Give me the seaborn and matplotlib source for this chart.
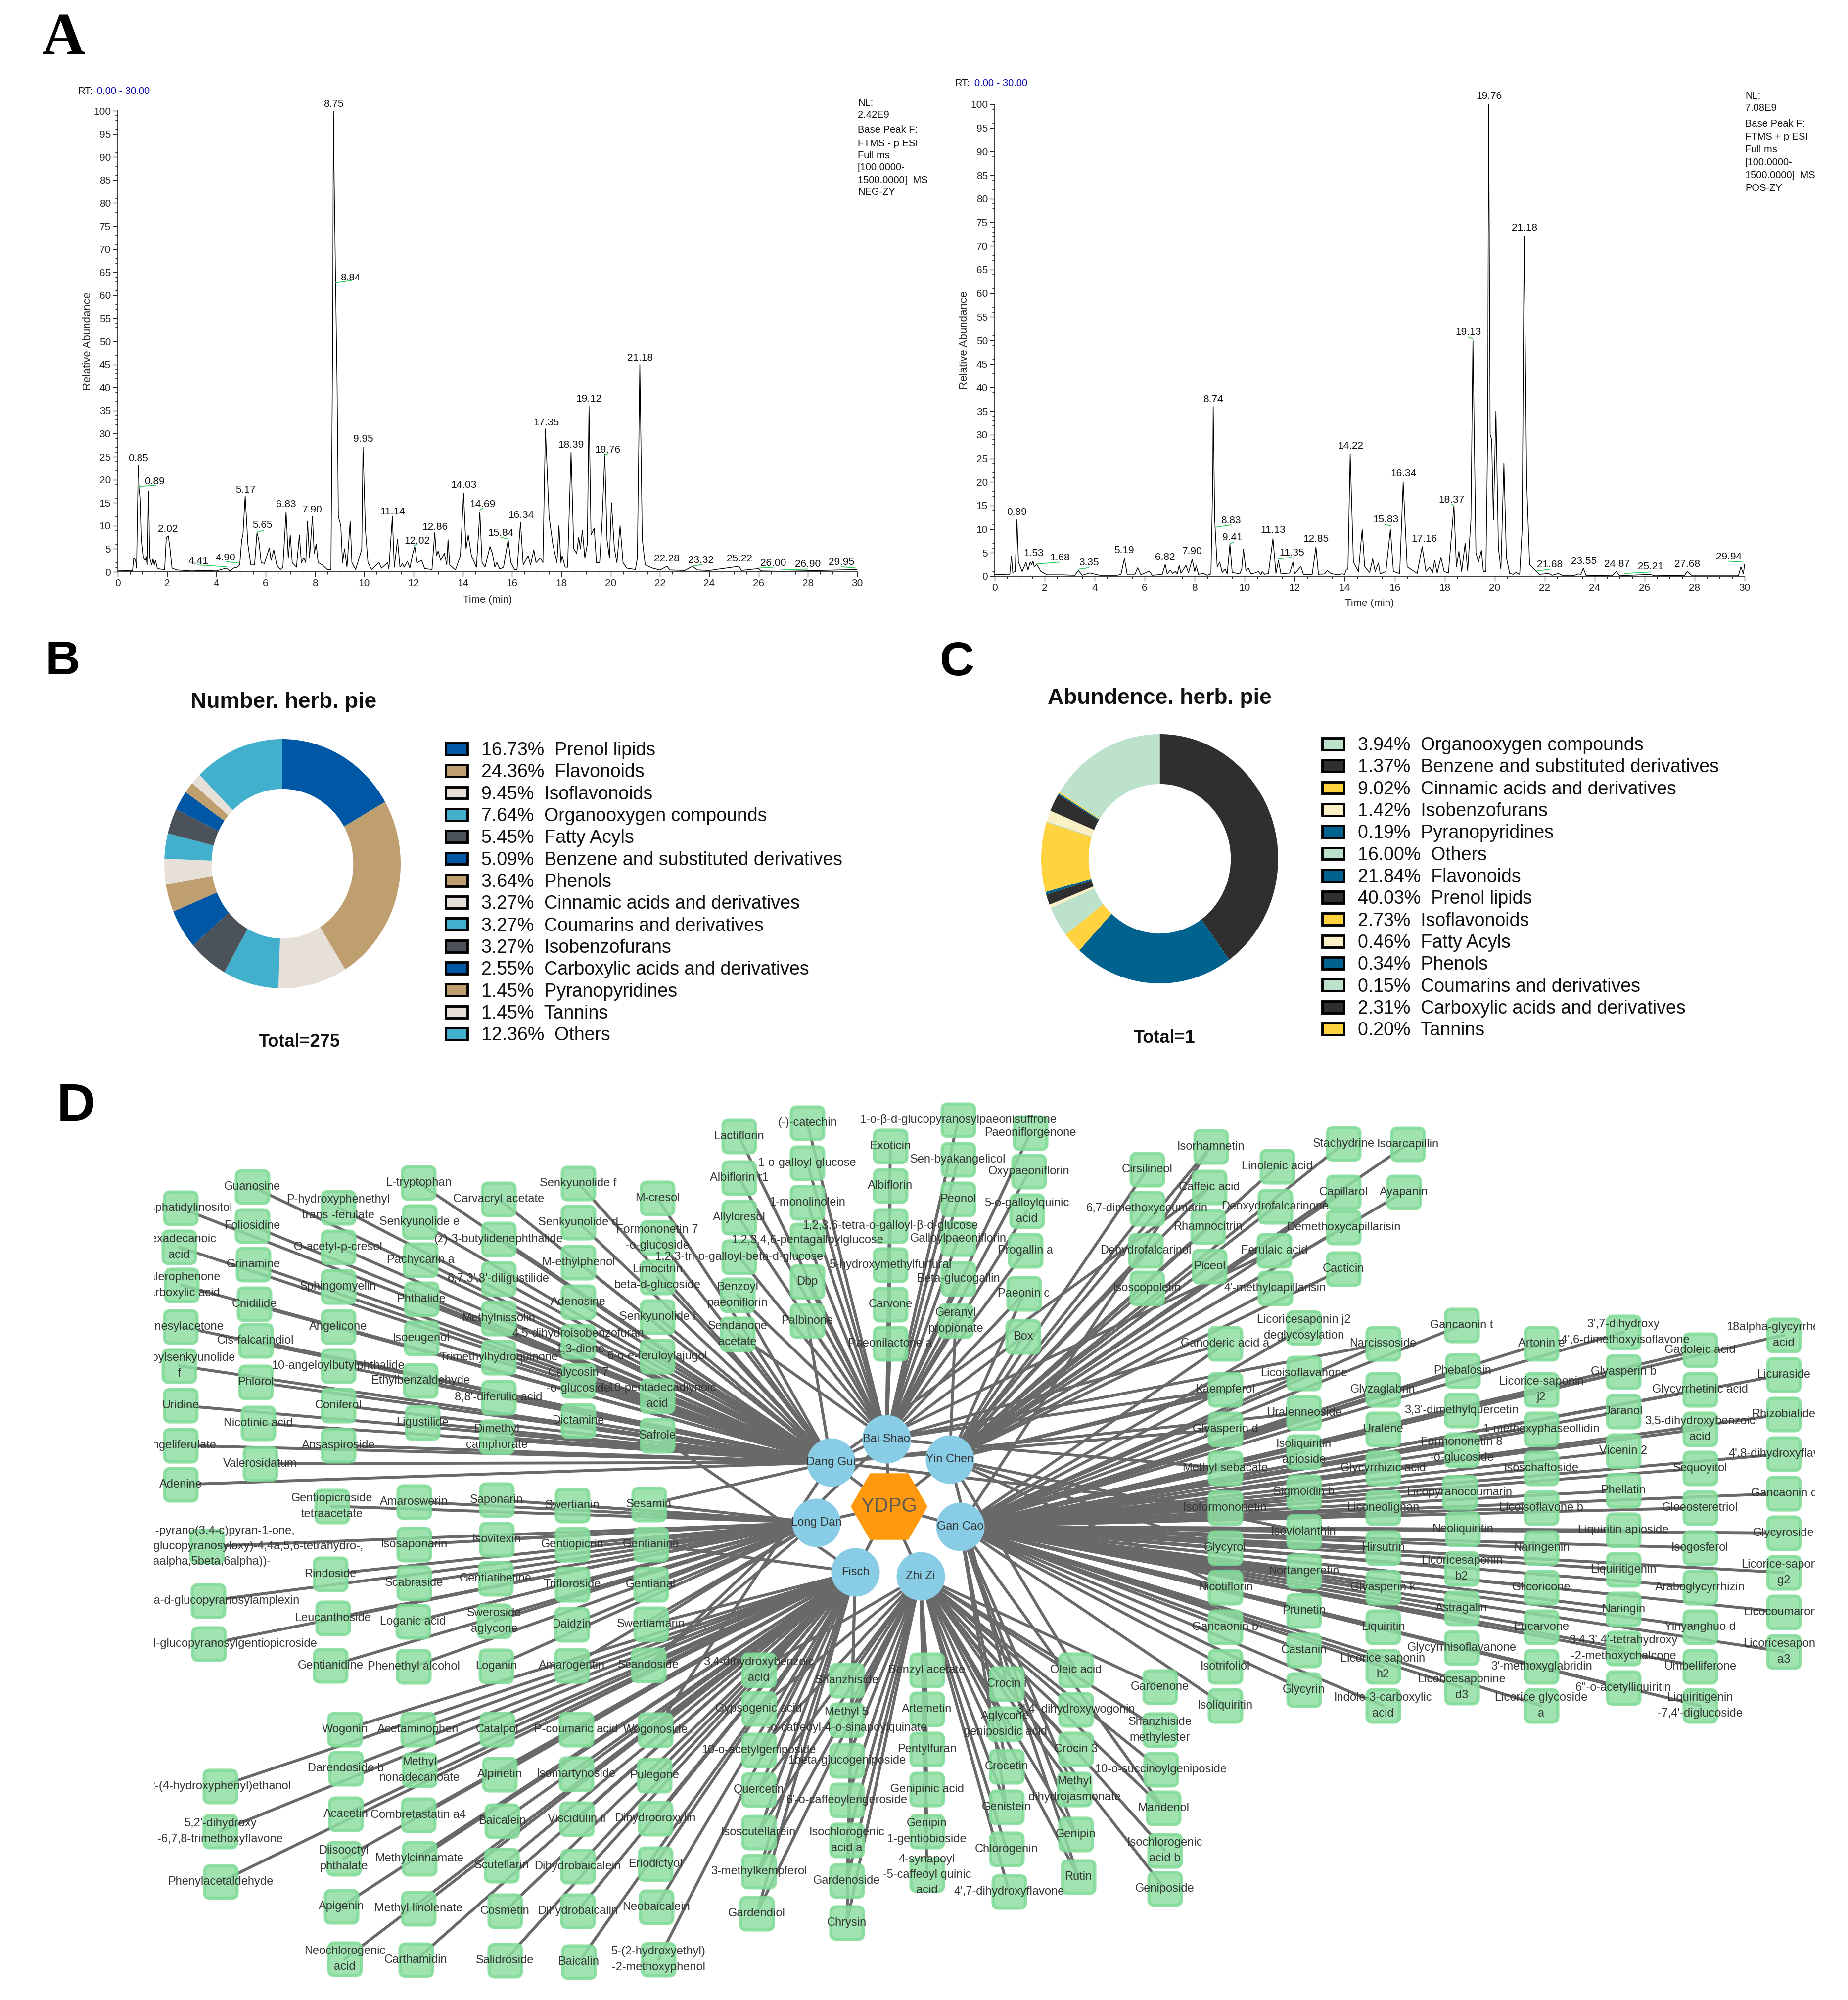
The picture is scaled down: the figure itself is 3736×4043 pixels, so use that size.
import numpy as np
import pandas as pd
import matplotlib
matplotlib.use("Agg")
import matplotlib.pyplot as plt
from matplotlib.patches import FancyBboxPatch, Patch
from matplotlib.markers import MarkerStyle
from matplotlib.ticker import MultipleLocator
import seaborn as sns

W, H = 3736, 4043

# ---- panel A: chromatograms, retention time (min) and relative abundance
neg_rt = [0,.6,.65,.72,.76,.83,.88,.92,.97,1.05,1.12,1.17,1.2,1.25,1.3,1.38,1.43,1.48,1.53,1.6,1.7,1.9,1.97,2.05,2.12,2.2,2.4,3,3.5,4,4.4,4.55,4.7,4.85,4.95,5.03,5.08,5.17,5.28,5.4,5.55,5.65,5.72,5.82,5.95,6.02,6.15,6.22,6.33,6.45,6.6,6.7,6.83,6.92,7.0,7.08,7.25,7.37,7.45,7.55,7.63,7.7,7.78,7.9,7.97,8.05,8.13,8.3,8.5,8.65,8.72,8.75,8.78,8.84,8.9,8.95,9.05,9.12,9.2,9.3,9.43,9.5,9.65,9.85,9.9,9.95,10.05,10.15,10.3,10.6,10.7,10.95,11.0,11.14,11.22,11.35,11.45,11.55,11.62,11.75,11.85,11.97,12.05,12.15,12.33,12.45,12.75,12.86,12.93,13,13.1,13.25,13.35,13.4,13.47,13.7,13.9,14.03,14.13,14.22,14.35,14.55,14.69,14.78,14.9,15.1,15.2,15.3,15.38,15.5,15.65,15.84,15.95,16.1,16.2,16.34,16.45,16.65,16.75,16.88,16.97,17.15,17.25,17.35,17.5,17.65,17.82,17.9,17.98,18.03,18.15,18.25,18.39,18.5,18.62,18.7,18.77,18.85,18.95,19.05,19.12,19.2,19.33,19.42,19.55,19.65,19.76,19.85,19.95,20.03,20.15,20.25,20.38,20.5,20.65,21,21.08,21.18,21.28,21.4,21.7,22,22.28,22.4,23,23.32,23.5,24,25.2,25.3,26,26.1,27,30]
neg_abund = [.2,.3,3.0,2.5,.8,23,18,16,7,3,2.5,3.3,1.5,17.5,3,1.5,2.8,1.5,2.5,.8,.6,.5,7.5,7.8,5,.8,.4,.2,.3,.2,.8,.2,.8,1,1.5,7,8,16.5,6,1.5,1.5,8.5,7,2,1.8,3,5.2,2.5,4.8,1.5,.5,1,13,3,8,2,1,8,2,3,2,11,3,12,4,6,2,1.5,.5,.5,50,100,85,62,40,12,10,2,5,1,11,2,.5,4,5,27,9,2,.5,2,.8,2,.6,12,1,7,1,1.8,1,2.3,.8,4,5.5,2,2.5,.7,.5,8.5,3.5,4.5,2.5,4,1.5,7,1.5,.4,3.5,17,5,8,3.5,1,13,2,1,5.5,4,1,2,.6,1,7,2,.5,.5,10.7,1.5,3.5,1.5,4.8,2,3,2,31,12,6,2,10,2,3.5,1,1,26,5,4,7.5,5,9,3,6,36,8,9.5,2,2,11,25.5,7,3,15,5,2,10,2,.8,.5,3,45,7,1.5,.8,.4,1.2,.4,.3,1.2,.4,.3,1.2,.3,.7,.2,.1,.5]
neg_labels = ["0.85","0.89","2.02","4.41","4.90","5.17","5.65","6.83","7.90","8.75","8.84","9.95","11.14","12.02","12.86","14.03","14.69","15.84","16.34","17.35","18.39","19.12","19.76","21.18","22.28","23.32","25.22","26.00","26.90","29.95"]
neg_label_x = [.83,1.5,2.03,3.27,4.38,5.18,5.87,6.82,7.9,8.76,9.45,9.95,11.15,12.14,12.88,14.03,14.8,15.55,16.36,17.38,18.39,19.12,19.88,21.2,22.28,23.65,25.23,26.6,28.0,29.35]
neg_label_y = [24.6,19.6,9.3,2.3,3.1,17.8,10.1,14.6,13.5,101.5,63.8,28.8,13,6.7,9.7,18.8,14.6,8.4,12.3,32.3,27.5,37.5,26.4,46.4,2.8,2.5,2.8,1.9,1.7,2.1]
neg_leaders = [(.87,18.5,1.55,18.8),(3.25,1.5,4.4,1.1),(4.4,2.2,4.9,1.9),(5.65,8.6,5.9,9),(8.84,62.7,9.5,63.2),(12.02,5.7,12.15,6),(14.69,13.4,14.8,13.8),(15.84,7.1,15.55,7.5),(19.76,25.3,19.9,25.7),(23.32,1.2,23.7,1.6),(26,.8,26.6,1),(26.9,.4,28,.6),(29.95,.8,29.35,1.1)]
neg_info = ["NL:","2.42E9","Base Peak F:","FTMS - p ESI","Full ms","[100.0000-","1500.0000]  MS","NEG-ZY"]

pos_rt = [0,.6,.67,.72,.82,.89,.95,1.1,1.25,1.33,1.42,1.48,1.53,1.58,1.68,1.85,2.1,2.7,3.2,3.35,3.5,3.8,4.2,4.9,5.05,5.19,5.3,5.6,5.72,5.85,6.18,6.3,6.7,6.82,6.9,7.02,7.12,7.22,7.3,7.38,7.45,7.65,7.75,7.9,8,8.06,8.15,8.35,8.5,8.65,8.72,8.74,8.8,8.9,9,9.1,9.22,9.3,9.41,9.5,9.8,9.88,9.95,10.05,10.15,10.25,10.4,10.55,10.65,10.7,10.8,10.95,11.13,11.25,11.35,11.45,11.8,11.93,12,12.25,12.35,12.7,12.85,12.95,13.2,13.3,13.45,13.7,13.9,14,14.07,14.13,14.22,14.35,14.55,14.7,14.8,15,15.12,15.22,15.35,15.42,15.65,15.83,15.95,16.2,16.34,16.5,16.9,17.1,17.25,17.4,17.52,17.6,17.7,17.85,17.98,18.15,18.37,18.47,18.57,18.68,18.82,18.92,19.05,19.13,19.25,19.35,19.47,19.55,19.65,19.72,19.76,19.82,19.88,19.95,20.05,20.15,20.25,20.37,20.47,20.6,20.75,20.85,21,21.1,21.18,21.28,21.4,21.68,21.8,22.15,22.3,22.55,22.7,23.2,23.35,23.45,23.55,23.65,24.7,24.87,25,26.22,26.4,27.6,27.7,27.9,29.75,29.85,29.95,30]
pos_abund = [.4,.3,4.3,.8,1,12,3,1,3,1.3,3,2.5,3.2,2,2.5,1,.3,.3,.2,1.2,.2,.7,.2,.2,.4,3.8,.3,.3,1.8,.3,1.1,.2,.4,2.5,.5,1.3,.6,1,.5,2.3,.6,2.3,.7,3.6,1,2.2,.4,.6,.2,.5,20,36,12,2,3,.8,1.5,.5,6.8,.8,.5,1.5,5.8,1.2,1.7,.5,.7,1,.3,1,.4,.6,8,.6,3.3,.5,.7,3,.5,2.1,.4,.4,6.2,.4,.5,1.2,.6,.3,.5,.4,1.5,1.5,26,3,1,10,2,.8,3.7,1,2.8,.5,1,10,1,.6,20,2,.6,6.3,1,1.9,.8,3.4,.7,4,1,.7,15,2,5.3,1,7,1.2,12,50,5,3,5.5,1,1,30,100,30,29,12,35,6,1.5,24,4,.6,.4,.8,.4,10,72,20,2.5,1,.4,.6,.2,.6,.2,.2,.5,.4,1.7,.2,.1,1,.1,.4,.1,.2,1,.1,.1,2,.5,2.5]
pos_labels = ["0.89","1.53","1.68","3.35","5.19","6.82","7.90","8.74","8.83","9.41","11.13","11.35","12.85","14.22","15.83","16.34","17.16","18.37","19.13","19.76","21.18","21.68","23.55","24.87","25.21","27.68","29.94"]
pos_label_x = [.89,1.55,2.61,3.77,5.18,6.82,7.91,8.73,9.45,9.5,11.14,11.89,12.86,14.23,15.64,16.36,17.18,18.27,18.95,19.77,21.2,22.2,23.57,24.89,26.25,27.7,29.36]
pos_label_y = [13.6,4.9,3.9,2.9,5.5,4,5.3,37.5,11.8,8.2,9.8,5,7.9,27.6,12,21.8,7.9,16.2,51.7,101.7,73.8,2.5,3.2,2.6,2,2.6,4.1]
pos_leaders = [(1.68,2.6,2.6,3),(3.35,1.5,3.75,1.8),(8.83,10.4,9.45,10.9),(9.41,6.9,9.55,7.2),(11.35,3.7,11.85,4),(15.83,10.7,15.6,11),(18.37,15,18.25,15.4),(19.13,50.3,18.95,50.7),(21.68,1.1,22.2,1.5),(25.21,.6,26.25,.9),(29.94,3,29.35,3.2)]
pos_info = ["NL:","7.08E9","Base Peak F:","FTMS + p ESI","Full ms","[100.0000-","1500.0000]  MS","POS-ZY"]

# ---- panels B and C
number_classes = ["Prenol lipids","Flavonoids","Isoflavonoids","Organooxygen compounds","Fatty Acyls","Benzene and substituted derivatives","Phenols","Cinnamic acids and derivatives","Coumarins and derivatives","Isobenzofurans","Carboxylic acids and derivatives","Pyranopyridines","Tannins","Others"]
number_pct = [16.73,24.36,9.45,7.64,5.45,5.09,3.64,3.27,3.27,3.27,2.55,1.45,1.45,12.36]
number_cols = ["#0057A6","#BF9E6F","#E6E0D8","#42B0CC","#4C525A"]

abund_classes = ["Organooxygen compounds","Benzene and substituted derivatives","Cinnamic acids and derivatives","Isobenzofurans","Pyranopyridines","Others","Flavonoids","Prenol lipids","Isoflavonoids","Fatty Acyls","Phenols","Coumarins and derivatives","Carboxylic acids and derivatives","Tannins"]
abund_pct = [3.94,1.37,9.02,1.42,.19,16.00,21.84,40.03,2.73,.46,.34,.15,2.31,.20]
mint, ink, gold, cream, teal = "#BCE2CC", "#2F2F2F", "#FFD23F", "#FBF0C5", "#00628F"
abund_cols = [mint, ink, gold, cream, teal, mint, teal, ink, gold, cream, teal, mint, ink, gold]
# going round the ring clockwise from the top
abund_ring = ["Prenol lipids","Flavonoids","Isoflavonoids","Organooxygen compounds","Fatty Acyls","Benzene and substituted derivatives","Phenols","Cinnamic acids and derivatives","Coumarins and derivatives","Isobenzofurans","Carboxylic acids and derivatives","Pyranopyridines","Tannins","Others"]

# ---- panel D: network, each node is (label, x, y) in layout units
hubs = [("Bai Shao",1792,2909),("Dang Gui",1680,2956),("Yin Chen",1920,2950),("Long Dan",1650,3078),("Gan Cao",1941,3086),("Fisch",1729,3178),("Zhi Zi",1861,3186)]

dang_gui_nodes = [("Phosphatidylinositol",365,2442),("Hexadecanoic\nacid",362,2521),("Valerophenone\ncarboxylic acid",367,2598),("Farnesylacetone",365,2682),("Angeloylsenkyunolide\nf",362,2761),("Uridine",365,2841),("Angeliferulate",365,2922),("Adenine",365,3001),
    ("Guanosine",510,2399),("Foliosidine",510,2478),("Grinamine",512,2556),("Cnidilide",514,2636),("Cis-falcarindiol",517,2710),("Phlorol",517,2794),("Nicotinic acid",522,2877),("Valerosidatum",526,2959),
    ("P-hydroxyphenethyl\ntrans -ferulate",684,2441),("O-acetyl-p-cresol",684,2521),("Sphingomyelin",684,2601),("Angelicone",684,2682),("10-angeloylbutylphthalide",684,2761),("Coniferol",684,2841),("Ansaspiroside",684,2922),
    ("L-tryptophan",846,2391),("Senkyunolide e",848,2470),("Pachycarin a",850,2547),("Phthalide",852,2626),("Isoeugenol",852,2705),("Ethylbenzaldehyde",850,2791),("Ligustilide",854,2876),
    ("Carvacryl acetate",1008,2424),("(z)-3-butylidenephthalide",1008,2505),("6,7,3',8'-diligustilide",1008,2585),("Methylnissolin",1008,2665),("Trimethylhydroquinone",1008,2744),("8,8'-diferulic acid",1008,2825),("Dimethyl\ncamphorate",1004,2905),
    ("Senkyunolide f",1169,2392),("Senkyunolide d",1169,2471),("M-ethylphenol",1169,2552),("Adenosine",1169,2632),("4,5-dihydroisobenzofuran\n-1,3-dione",1169,2712),("Calycosin 7\n-o-glucoside",1169,2791),("Dictamine",1169,2872),
    ("M-cresol",1329,2422),("Formononetin 7\n-o-glucoside",1329,2502),("Limocitrin\nbeta-d-glucoside",1329,2582),("Senkyunolide i",1329,2662),("6-o-e-feruloylajugol",1329,2742),("7,10-pentadecadiynoic\nacid",1329,2822),("Safrole",1329,2902)]

bai_shao_nodes = [("Lactiflorin",1494,2297),("Albiflorin r1",1494,2381),("Allylcresol",1494,2461),("1,2,3-tri-o-galloyl-beta-d-glucose",1494,2541),("Benzoyl\npaeoniflorin",1491,2618),("Sendanone\nacetate",1491,2697),
    ("(-)-catechin",1632,2270),("1-o-galloyl-glucose",1632,2351),("1-monolinolein",1632,2431),("1,2,3,4,6-pentagalloylglucose",1632,2507),("Dbp",1632,2591),("Palbinone",1632,2670),
    ("Exoticin",1800,2317),("Albiflorin",1800,2397),("1,2,3,6-tetra-o-galloyl-β-d-glucose",1800,2478),("5-hydroxymethylfurfural",1800,2557),("Carvone",1800,2637),("Paeonilactone a",1800,2716),
    ("1-o-β-d-glucopyranosylpaeonisuffrone",1937,2264),("Sen-byakangelicol",1937,2344),("Peonol",1937,2424),("Galloylpaeoniflorin",1937,2504),("Beta-glucogallin",1937,2585),("Geranyl\npropionate",1932,2670),
    ("Paeoniflorgenone",2083,2290),("Oxypaeoniflorin",2080,2368),("5-o-galloylquinic\nacid",2076,2448),("Progallin a",2073,2528),("Paeonin c",2070,2615),("Box",2068,2702)]

yin_chen_nodes = [("Cirsilineol",2319,2364),("6,7-dimethoxycoumarin",2319,2443),("Dehydrofalcarinol",2316,2528),("Isoscopoletin",2319,2604),
    ("Isorhamnetin",2448,2318),("Caffeic acid",2445,2400),("Rhamnocitrin",2442,2480),("Piceol",2445,2560),
    ("Linolenic acid",2582,2358),("Deoxydrofalcarinone",2578,2439),("Ferulaic acid",2576,2528),("4'-methylcapillarisin",2578,2604),
    ("Stachydrine",2716,2312),("Capillarol",2716,2410),("Demethoxycapillarisin",2716,2481),("Cacticin",2716,2565),
    ("Isoarcapillin",2846,2313),("Ayapanin",2838,2410)]

gan_cao_nodes = [("Ganoderic acid a",2477,2716),("Kaempferol",2477,2809),("Glyasperin d",2477,2889),("Methyl sebacate",2477,2968),("Isoformononetin",2477,3048),("Glycyrol",2477,3129),("Nicotiflorin",2477,3209),("Gancaonin b",2477,3289),("Isotrifoliol",2477,3369),("Isoliquiritin",2477,3448),
    ("Licoricesaponin j2\ndeglycosylation",2636,2684),("Licoisoflavanone",2636,2776),("Uralenneoside",2636,2856),("Isoliquiritin\napioside",2636,2935),("Sigmoidin b",2636,3016),("Isoviolanthin",2636,3096),("Nortangeretin",2636,3176),("Prunetin",2636,3256),("Castanin",2636,3336),("Glycyrin",2636,3416),
    ("Narcissoside",2796,2716),("Glyzaglabrin",2796,2809),("Uralene",2796,2889),("Glycyrrhizic acid",2796,2968),("Liconeolignan",2796,3048),("Hirsutrin",2796,3129),("Glyasperin k",2796,3209),("Liquiritin",2796,3289),("Licorice saponin\nh2",2796,3369),("Indole-3-carboxylic\nacid",2796,3448),
    ("Gancaonin t",2955,2679),("Phebalosin",2957,2771),("3,3'-dimethylquercetin",2955,2851),("Formononetin 8\n-o-glucoside",2955,2931),("Licopyranocoumarin",2951,3017),("Neoliquiritin",2957,3091),("Licoricesaponin\nb2",2955,3171),("Astragalin",2955,3251),("Glycyrrhisoflavanone",2955,3331),("Licoricesaponine\nd3",2955,3411),
    ("Artonin e",3116,2716),("Licorice-saponin\nj2",3116,2809),("1-methoxyphaseollidin",3116,2889),("Isoschaftoside",3116,2968),("Licoisoflavone b",3116,3048),("Naringenin",3116,3129),("Glicoricone",3116,3209),("Eucarvone",3116,3289),("3'-methoxyglabridin",3116,3369),("Licorice glycoside\na",3116,3448),
    ("3',7-dihydroxy\n-4',6-dimethoxyisoflavone",3282,2693),("Glyasperin b",3282,2773),("Jaranol",3282,2853),("Vicenin 2",3282,2933),("Phellatin",3282,3013),("Liquiritin apioside",3282,3093),("Liquiritigenin",3282,3173),("Naringin",3282,3253),("3,4,3',4'-tetrahydroxy\n-2-methoxychalcone",3282,3332),("6''-o-acetylliquiritin",3282,3412),
    ("Gadoleic acid",3437,2729),("Glycyrrhetinic acid",3437,2809),("3,5-dihydroxybenzoic\nacid",3437,2889),("Sequoyitol",3437,2968),("Gloeosteretriol",3437,3048),("Isogosferol",3437,3129),("Araboglycyrrhizin",3437,3209),("Yinyanghuo d",3437,3289),("Umbelliferone",3437,3369),("Liquiritigenin\n-7,4'-diglucoside",3437,3448),
    ("18alpha-glycyrrhetinic\nacid",3606,2699),("Licuraside",3606,2779),("Rhizobialide",3606,2859),("4',8-dihydroxyflavone",3606,2939),("Gancaonin c",3606,3019),("Glycyroside",3606,3099),("Licorice-saponin\ng2",3606,3179),("Licocoumarone",3606,3259),("Licoricesaponin\na3",3606,3339)]

long_dan_nodes = [("Gentiopicroside\ntetraacetate",671,3045),("Amaroswerin",837,3036),("Saponarin",1004,3032),("Swertianin",1157,3043),("Sesamin",1312,3041),
    ("(1H,3H-pyrano(3,4-c)pyran-1-one,\n5-ethenyl-6-(beta-d-glucopyranosyloxy)-4,4a,5,6-tetrahydro-,\n(4aalpha,5beta,6alpha))-",418,3126),("Isosaponarin",837,3122),("Isovitexin",1004,3112),("Gentiopicrin",1157,3122),("Gentianine",1316,3122),
    ("Rindoside",668,3182),("Scabraside",837,3200),("Gentiatibetine",1002,3191),("Trifloroside",1157,3203),("Gentianal",1316,3203),
    ("1-o-beta-d-glucopyranosylamplexin",421,3236),("Leucanthoside",673,3271),("Loganic acid",835,3278),("Sweroside\naglycone",999,3277),("Daidzin",1156,3284),("Swertiamarin",1316,3283),
    ("6'-o-beta-d-glucopyranosylgentiopicroside",422,3323),("Gentianidine",668,3367),("Phenethyl alcohol",836,3369),("Loganin",1003,3368),("Amarogentin",1156,3367),("Scandoside",1311,3366)]

fisch_nodes = [("2-(4-hydroxyphenyl)ethanol",445,3611),("5,2'-dihydroxy\n-6,7,8-trimethoxyflavone",445,3702),("Phenylacetaldehyde",446,3804),
    ("Wogonin",697,3496),("Acetaminophen",845,3496),("Catalpol",1005,3496),("P-coumaric acid",1165,3496),("Wogonoside",1325,3497),
    ("Darendoside b",699,3575),("Methyl\nnonadecanoate",848,3578),("Alpinetin",1010,3587),("Isomartynoside",1165,3586),("Pulegone",1323,3589),
    ("Acacetin",699,3667),("Combretastatin a4",846,3669),("Baicalein",1015,3681),("Viscidulin ii",1166,3677),("Dihydrooroxylin",1325,3676),
    ("Diisooctyl\nphthalate",695,3757),("Methylcinnamate",848,3757),("Scutellarin",1014,3771),("Dihydrobaicalein",1168,3773),("Eriodictyol",1325,3768),
    ("Apigenin",690,3854),("Methyl linolenate",846,3858),("Cosmetin",1021,3863),("Dihydrobaicalin",1168,3863),("Neobaicalein",1327,3855),
    ("Neochlorogenic\nacid",697,3960),("Carthamidin",841,3962),("Salidroside",1021,3963),("Baicalin",1170,3966),("5-(2-hydroxyethyl)\n-2-methoxyphenol",1331,3961),
    ("3,4-dihydroxybenzoic\nacid",1534,3376),("Gypsogenic acid",1534,3454),("10-o-acetylgeniposide",1534,3538),("Quercetin",1534,3618),("Isoscutellarein",1534,3704),("3-methylkempferol",1534,3783),("Gardendiol",1530,3868)]

zhi_zi_nodes = [("Shanzhiside",1712,3397),("Methyl 5\n-o-caffeoyl-4-o-sinapoylquinate",1712,3477),("1beta-glucogeniposide",1712,3559),("6'-o-caffeoylerigeroside",1712,3639),("Isochlorogenic\nacid a",1712,3720),("Gardenoside",1712,3802),("Chrysin",1712,3887),
    ("Benzyl acetate",1874,3376),("Artemetin",1874,3455),("Pentylfuran",1874,3536),("Genipinic acid",1874,3617),("Genipin\n1-gentiobioside",1874,3702),("4-synapoyl\n-5-caffeoyl quinic\nacid",1874,3790),
    ("Crocin i",2035,3404),("Aglycone\ngeniposidic acid",2032,3485),("Crocetin",2035,3571),("Genistein",2035,3653),("Chlorogenin",2035,3738),("4',7-dihydroxyflavone",2040,3824),
    ("Oleic acid",2175,3376),("3',4'-dihydroxywogonin",2175,3456),("Crocin 3",2175,3536),("Methyl\ndihydrojasmonate",2172,3617),("Genipin",2175,3708),("Rutin",2180,3794),
    ("Gardenone",2345,3410),("Shanzhiside\nmethylester",2345,3497),("10-o-succinoylgeniposide",2347,3577),("Mandenol",2352,3655),("Isochlorogenic\nacid b",2355,3741),("Geniposide",2355,3818)]

# compounds shared by a second herb
shared_edges = [("Kaempferol","Bai Shao"),("Kaempferol","Yin Chen"),("Isorhamnetin","Gan Cao"),("Caffeic acid","Dang Gui"),("Ferulaic acid","Dang Gui"),("Safrole","Fisch"),("Scandoside","Bai Shao"),
    ("Oleic acid","Yin Chen"),("Crocin i","Yin Chen"),("Crocetin","Gan Cao"),("Genistein","Gan Cao"),("Chrysin","Fisch"),("Gardenoside","Fisch"),("Quercetin","Zhi Zi"),("Isoscutellarein","Zhi Zi"),("3-methylkempferol","Zhi Zi"),("Gypsogenic acid","Zhi Zi"),("10-o-acetylgeniposide","Zhi Zi"),("Gardendiol","Zhi Zi"),("3,4-dihydroxybenzoic\nacid","Zhi Zi"),
    ("Palbinone","Dang Gui"),("Sendanone\nacetate","Dang Gui"),("Benzoyl\npaeoniflorin","Dang Gui"),("Geranyl\npropionate","Yin Chen"),("Box","Yin Chen"),("Paeonin c","Yin Chen"),("Methyl sebacate","Bai Shao"),("Glyasperin d","Dang Gui"),("Isoformononetin","Dang Gui"),("Glycyrol","Yin Chen"),("Nicotiflorin","Yin Chen"),("Ganoderic acid a","Bai Shao"),("Licoisoflavanone","Yin Chen"),("Uralenneoside","Dang Gui"),("Narcissoside","Bai Shao"),("Isoviolanthin","Yin Chen"),("Genipin","Gan Cao"),("Rutin","Gan Cao"),("Methyl\ndihydrojasmonate","Gan Cao"),("Mandenol","Gan Cao"),("Wogonoside","Dang Gui"),("Sesamin","Dang Gui"),("Gentianine","Fisch"),("Swertiamarin","Fisch")]


def axes_px(fig, x0, y0, x1, y1):
    return fig.add_axes([x0 / W, 1 - y1 / H, (x1 - x0) / W, (y1 - y0) / H])


def text_px(fig, x, y, s, **kw):
    kw.setdefault("va", "center")
    return fig.text(x / W, 1 - y / H, s, **kw)


def draw_trace(fig, box, rt, abund, labels, label_x, label_y, leaders, label_xy):
    ax = axes_px(fig, *box)
    sns.lineplot(x=rt, y=abund, ax=ax, color="black", lw=1.1, estimator=None, sort=False)
    for (x0, y0, x1, y1) in leaders:
        ax.plot([x0, x1], [y0, y1], color="#22CC55", lw=1.2, clip_on=False)
    for s, x, y in zip(labels, label_x, label_y):
        ax.text(x, y, s, ha="center", va="center", fontsize=15, color="#111111", clip_on=False)
    ax.set_xlim(0, 30)
    ax.set_ylim(0, 100)
    ax.set_xticks(np.arange(0, 31, 2))
    ax.set_yticks(np.arange(0, 101, 5))
    ax.xaxis.set_minor_locator(MultipleLocator(0.5))
    ax.yaxis.set_minor_locator(MultipleLocator(1))
    ax.tick_params(which="major", length=7, width=1, labelsize=15, pad=3)
    ax.tick_params(which="minor", length=3.5, width=.8)
    ax.set_xlabel("Time (min)", fontsize=15)
    ax.set_ylabel("Relative Abundance", fontsize=16)
    ax.xaxis.set_label_coords(.5, label_xy[0])
    ax.yaxis.set_label_coords(label_xy[1], .5)
    sns.despine(ax=ax)
    return ax


def draw_ring(fig, box, values, colors):
    ax = axes_px(fig, *box)
    ax.pie(values, colors=colors, startangle=90, counterclock=False, radius=1,
           wedgeprops=dict(width=.4, linewidth=0))
    ax.set_aspect("auto")
    ax.set_xlim(-1, 1)
    ax.set_ylim(-1, 1)
    return ax


def draw_legend(fig, ax, names, pct, colors, x, y):
    handles = [Patch(facecolor=c, edgecolor="black", linewidth=3.5) for c in colors]
    labels = ["%.2f%%  %s" % (p, n) for p, n in zip(pct, names)]
    ax.legend(handles, labels, loc="upper left", bbox_to_anchor=(x / W, 1 - y / H),
              bbox_transform=fig.transFigure, frameon=False, fontsize=27, borderpad=0, borderaxespad=0,
              handlelength=1.16, handleheight=.6, handletextpad=.77, labelspacing=.222)


sns.set_theme(style="ticks")
plt.rcParams["font.family"] = ["Liberation Sans", "DejaVu Sans"]
plt.rcParams["text.color"] = "#111111"

fig = plt.figure(figsize=(W / 100, H / 100), dpi=100, facecolor="white")

# panel letters
text_px(fig, 85, 81, "A", family="Liberation Serif", fontweight="bold", fontsize=87, color="black")
text_px(fig, 92, 1338, "B", fontweight="bold", fontsize=70, color="black")
text_px(fig, 1900, 1340, "C", fontweight="bold", fontsize=70, color="black")
text_px(fig, 115, 2238, "D", fontweight="bold", fontsize=78, color="black")

# ---- A
draw_trace(fig, (238, 224, 1733, 1156), neg_rt, neg_abund, neg_labels, neg_label_x, neg_label_y, neg_leaders, (-.05, -.0335))
draw_trace(fig, (2011, 211, 3527, 1165), pos_rt, pos_abund, pos_labels, pos_label_x, pos_label_y, pos_leaders, (-.0475, -.0336))

text_px(fig, 157, 184, "RT:", fontsize=14.5)
text_px(fig, 196, 184, "0.00 - 30.00", fontsize=14.5, color="#0000AA")
text_px(fig, 1930, 169, "RT:", fontsize=14.5)
text_px(fig, 1970, 169, "0.00 - 30.00", fontsize=14.5, color="#0000AA")
for s, y in zip(neg_info, [208, 233, 263, 290, 315, 339, 365, 388]):
    text_px(fig, 1734, y, s, fontsize=14.5)
for s, y in zip(pos_info, [194, 219, 250, 277, 303, 328, 354, 380]):
    text_px(fig, 3528, y, s, fontsize=14.5)

# ---- B
b_colors = [number_cols[i % 5] for i in range(len(number_pct))]
ax_b = draw_ring(fig, (332, 1494, 810, 1998), number_pct, b_colors)
draw_legend(fig, ax_b, number_classes, number_pct, b_colors, 901, 1499)
text_px(fig, 573, 1420, "Number. herb. pie", fontweight="bold", fontsize=32, ha="center")
text_px(fig, 605, 2107, "Total=275", fontweight="bold", fontsize=26, ha="center")

# ---- C
color_of = dict(zip(abund_classes, abund_cols))
pct_of = dict(zip(abund_classes, abund_pct))
ax_c = draw_ring(fig, (2105, 1484, 2584, 1988), [pct_of[n] for n in abund_ring], [color_of[n] for n in abund_ring])
draw_legend(fig, ax_c, abund_classes, abund_pct, abund_cols, 2673, 1489)
text_px(fig, 2344, 1412, "Abundence. herb. pie", fontweight="bold", fontsize=32, ha="center")
text_px(fig, 2354, 2099, "Total=1", fontweight="bold", fontsize=26, ha="center")

# ---- D
ax_d = axes_px(fig, 311, 2150, 3669, 4043)

groups = {"Dang Gui": dang_gui_nodes, "Bai Shao": bai_shao_nodes, "Yin Chen": yin_chen_nodes, "Gan Cao": gan_cao_nodes,
          "Long Dan": long_dan_nodes, "Fisch": fisch_nodes, "Zhi Zi": zhi_zi_nodes}
hub_xy = {n: (x, y) for n, x, y in hubs}
all_nodes = [n for g in groups.values() for n in g]
node_xy = {n: (x, y) for n, x, y in all_nodes}
center = (1797, 3045)

rows = []
eid = 0
for hub, nodes in groups.items():
    for name, x, y in nodes:
        rows += [(eid, hub_xy[hub][0], hub_xy[hub][1]), (eid, x, y)]
        eid += 1
for name, hub in shared_edges:
    rows += [(eid, hub_xy[hub][0], hub_xy[hub][1]), (eid, node_xy[name][0], node_xy[name][1])]
    eid += 1
for name, x, y in hubs:
    rows += [(eid, center[0], center[1]), (eid, x, y)]
    eid += 1
edges = pd.DataFrame(rows, columns=["edge", "x", "y"])
sns.lineplot(data=edges, x="x", y="y", units="edge", estimator=None, sort=False, ax=ax_d, color="#696969", lw=4.2, zorder=1)

node_df = pd.DataFrame(all_nodes, columns=["name", "x", "y"])
rounded = FancyBboxPatch((-.5, -.5), 1, 1, boxstyle="round,pad=0,rounding_size=.17").get_path()
sns.scatterplot(data=node_df, x="x", y="y", ax=ax_d, marker=MarkerStyle(rounded), s=2250, linewidth=4.5,
                facecolor="#8FDFA4", edgecolor="#7FDB97", alpha=.85, zorder=2, legend=False)

hub_df = pd.DataFrame(hubs, columns=["name", "x", "y"])
sns.scatterplot(data=hub_df, x="x", y="y", ax=ax_d, marker="o", s=4980, color="#89CCE6", linewidth=0, zorder=3, legend=False)
sns.scatterplot(x=[center[0]], y=[center[1]], ax=ax_d, marker="H", s=12500, color="#FF9A0E", linewidth=0, zorder=3, legend=False)

for name, x, y in all_nodes + hubs:
    ax_d.text(x, y, name, ha="center", va="center", fontsize=17, color="#333333", linespacing=1.55, zorder=4, clip_on=True)
ax_d.text(center[0], center[1], "YDPG", ha="center", va="center", fontsize=29, color="#5F5A50", zorder=4)

ax_d.set_xlim(311, 3669)
ax_d.set_ylim(4043, 2150)
ax_d.axis("off")

fig.savefig("out.png", dpi=100, facecolor="white")
